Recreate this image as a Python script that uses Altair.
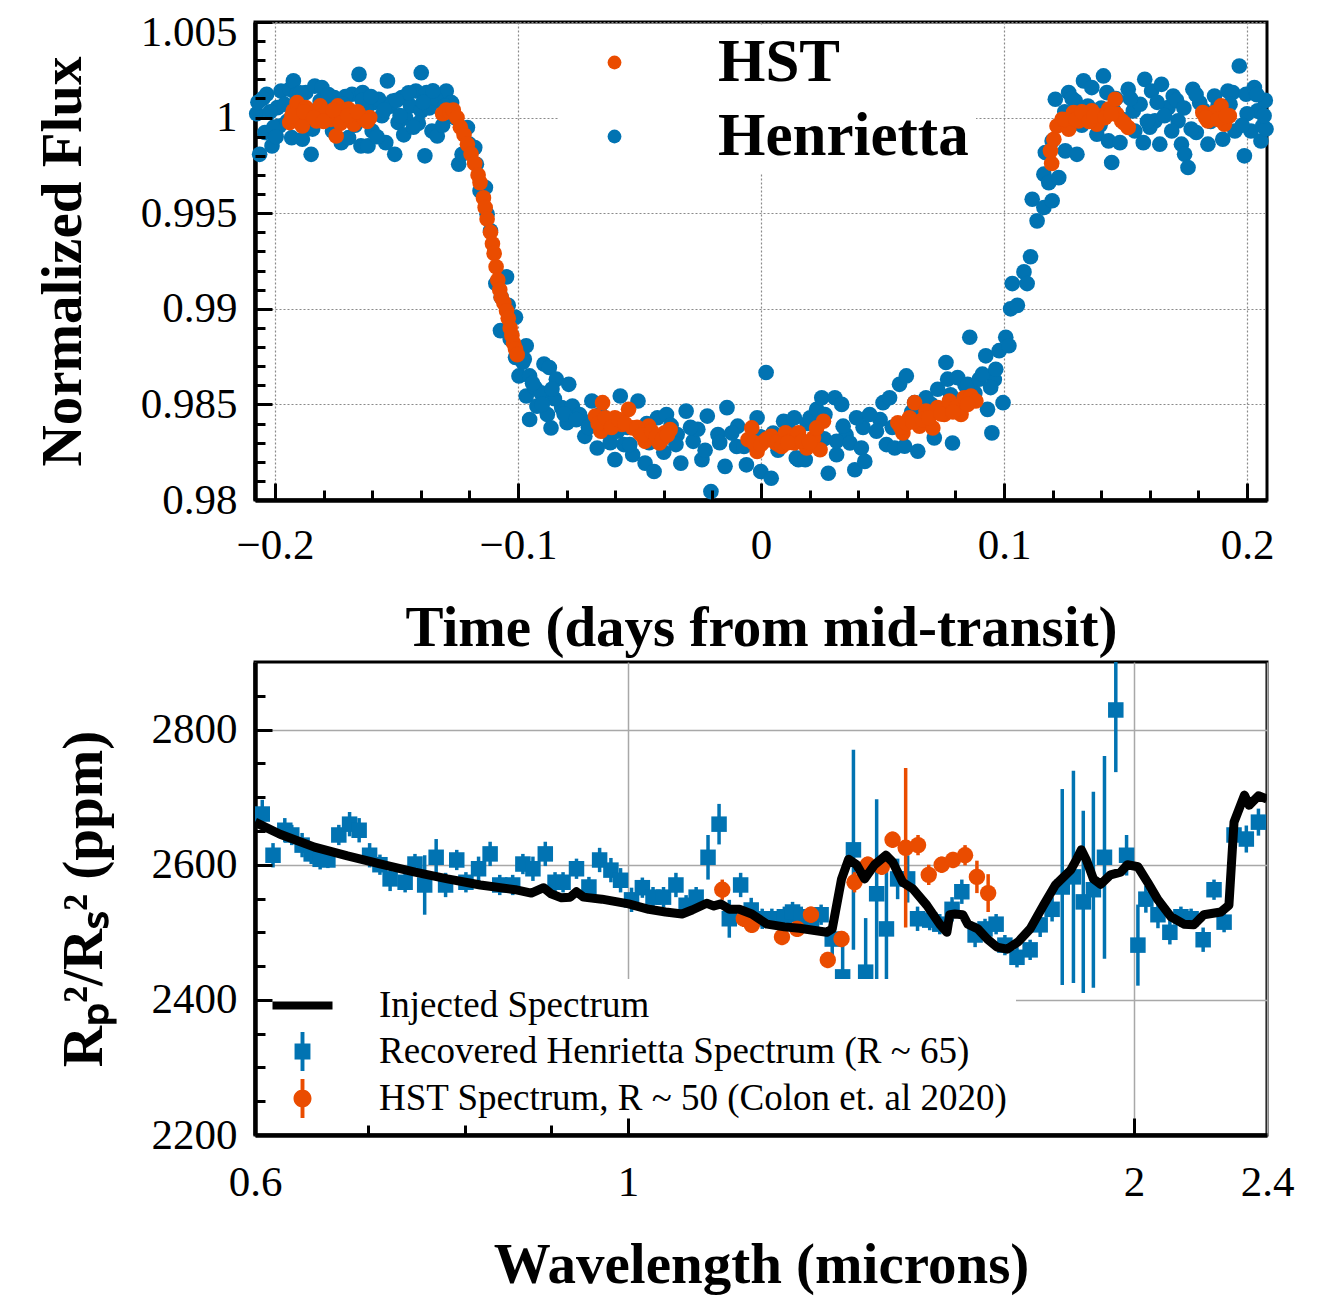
import altair as alt
import pandas as pd

BLUE = "#0173B2"
ORANGE = "#EA4C00"

# ---------------- top panel data (light curve) ----------------
hen_t = [-0.2063, -0.2041, -0.2034, -0.2012, -0.1990, -0.1982, -0.1975, -0.1939, -0.1924, -0.1931,
         -0.1887, -0.1873, -0.1851, -0.1836, -0.1807, -0.1814, -0.1785, -0.1763, -0.1756, -0.1727,
         -0.1697, -0.1683, -0.1654, -0.1646, -0.1639, -0.1617, -0.1595, -0.1573, -0.1544, -0.1537,
         -0.1515, -0.1507, -0.1493, -0.1478, -0.1463, -0.1442, -0.1420, -0.1398, -0.1398, -0.1383,
         -0.1376, -0.1354, -0.1332, -0.1325, -0.1295, -0.1273, -0.1259, -0.1244, -0.1230, -0.1208,
         -0.1200, -0.1178, -0.1171, -0.1156, -0.1134, -0.1127, -0.1113,
         -0.2075, -0.2050, -0.2005, -0.1960, -0.1910, -0.1860, -0.1795, -0.1740, -0.1710, -0.1670,
         -0.1625, -0.1600, -0.1560, -0.1525, -0.1470, -0.1450, -0.1410, -0.1365, -0.1340, -0.1310,
         -0.2070, -0.2020, -0.1995, -0.1950, -0.1915, -0.1895, -0.1845, -0.1820, -0.1780, -0.1750,
         -0.1720, -0.1690, -0.1640, -0.1605, -0.1580, -0.1550, -0.1500, -0.1485, -0.1430, -0.1390,
         -0.1350, -0.1300,
         -0.1091, -0.1047, -0.1069, -0.1040, -0.1010, -0.1072, -0.1032, -0.0966, -0.1010, -0.0974,
         -0.0996, -0.0952, -0.0893, -0.0871, -0.0966, -0.0930, -0.0842, -0.0791, -0.0922, -0.0952,
         -0.0879, -0.0864, -0.0820, -0.0776, -0.0798, -0.0747, -0.0725, -0.0696, -0.0674, -0.0645,
         -0.0601, -0.0579, -0.0564, -0.0528, -0.0506, -0.0477, -0.0440, -0.0426, -0.0389, -0.0345,
         -0.0330, -0.0308, -0.0279, -0.0243, -0.0221, -0.0206, -0.0177, -0.0140, -0.0148, -0.0096,
         -0.0060, -0.0016, 0.0021, -0.0001, 0.0042, 0.0093, 0.0137, 0.0145,
         -0.0620, -0.0550, -0.0460, -0.0400, -0.0370, -0.0100, 0.0050, -0.0260, -0.0700, -0.0850, -0.0905,
         -0.0980, -0.0940, -0.0900, -0.0860, -0.0810, -0.0760, -0.0710, -0.0660, -0.0590, -0.0540,
         -0.0470, -0.0350, -0.0290, -0.0230, -0.0170, -0.0120, -0.0070, 0.0000, 0.0070, 0.0120,
         0.0190, 0.0260, 0.0350, 0.0420, 0.0490, 0.0540, 0.0620, 0.0700, 0.0780, 0.0840,
         0.0880, 0.0960,
         0.0154, 0.0182, 0.0202, 0.0229, 0.0250, 0.0277, 0.0263, 0.0304, 0.0311, 0.0332,
         0.0338, 0.0311, 0.0366, 0.0386, 0.0393, 0.0413, 0.0427, 0.0447, 0.0475, 0.0502,
         0.0516, 0.0529, 0.0550, 0.0570, 0.0591, 0.0598, 0.0632, 0.0645, 0.0679, 0.0713,
         0.0727, 0.0761, 0.0768, 0.0788, 0.0809, 0.0850, 0.0859, 0.0898, 0.0911, 0.0925,
         0.0932, 0.0945, 0.0950, 0.0966, 0.0980, 0.0996, 0.1007, 0.1020, 0.1027, 0.1055,
         0.1034, 0.1082, 0.1095, 0.1109,
         0.1136, 0.1116, 0.1164, 0.1198, 0.1164, 0.1184, 0.1225, 0.1170, 0.1198, 0.1211,
         0.1252, 0.1266, 0.1293, 0.1300, 0.1327, 0.1361, 0.1382, 0.1409, 0.1423, 0.1443,
         0.1430, 0.1477, 0.1511, 0.1532, 0.1538, 0.1573, 0.1579, 0.1607, 0.1621, 0.1648,
         0.1641, 0.1675, 0.1696, 0.1716, 0.1730, 0.1743, 0.1757, 0.1777, 0.1791, 0.1805,
         0.1839, 0.1866, 0.1900, 0.1921, 0.1941, 0.1968, 0.1989, 0.1996, 0.2016, 0.2030,
         0.2043, 0.2057, 0.2064,
         0.1250, 0.1320, 0.1400, 0.1460, 0.1490, 0.1560, 0.1600, 0.1660, 0.1710, 0.1770,
         0.1820, 0.1850, 0.1880, 0.1950, 0.2000, 0.2075, 0.2078,
         0.1280, 0.1345, 0.1395, 0.1450, 0.1520, 0.1590, 0.1630, 0.1690, 0.1740, 0.1790,
         0.1860, 0.1930, 0.1980, 0.2040, 0.2070]
hen_f = [0.99808, 0.99922, 1.00122, 0.99852, 1.00052, 0.99956, 1.00139, 1.00148, 1.00192, 0.99895,
         0.99887, 1.00131, 0.99808, 1.00165, 1.00157, 1.00087, 1.00044, 0.99930, 1.00105, 0.99869,
         0.99895, 1.00122, 1.00226, 0.99852, 1.00131, 0.99852, 1.00078, 1.00096, 0.99869, 1.00192,
         1.00087, 0.99808, 0.99974, 1.00105, 1.00000, 1.00061, 1.00139, 1.00235, 1.00035, 0.99800,
         1.00131, 0.99930, 0.99904, 1.00087, 1.00139, 1.00078, 1.00000, 0.99756, 0.99808, 0.99948,
         0.99861, 0.99843, 0.99756, 0.99617, 0.99634, 0.99495, 0.99408,
         1.00020, 1.00100, 0.99950, 1.00070, 1.00120, 1.00020, 0.99990, 1.00030, 1.00110, 0.99960,
         1.00040, 0.99930, 1.00010, 1.00060, 0.99910, 1.00130, 0.99970, 1.00050, 1.00100, 0.99960,
         1.00080, 1.00030, 0.99900, 0.99980, 1.00040, 1.00130, 0.99940, 1.00050, 1.00120, 0.99970,
         1.00070, 1.00020, 1.00090, 1.00110, 0.99900, 1.00040, 1.00090, 1.00010, 0.99950, 1.00080,
         1.00140, 1.00060,
         0.99132, 0.99167, 0.99061, 0.99018, 0.98956, 0.98886, 0.98842, 0.98807, 0.98746, 0.98737,
         0.98649, 0.98649, 0.98711, 0.98693, 0.98544, 0.98588, 0.98632, 0.98605, 0.98491, 0.98421,
         0.98447, 0.98377, 0.98483, 0.98491, 0.98404, 0.98447, 0.98333, 0.98518, 0.98272, 0.98360,
         0.98211, 0.98544, 0.98290, 0.98237, 0.98518, 0.98193, 0.98149, 0.98430, 0.98447, 0.98342,
         0.98193, 0.98465, 0.98307, 0.98211, 0.98439, 0.98044, 0.98342, 0.98483, 0.98176, 0.98386,
         0.98184, 0.98430, 0.98667, 0.98149, 0.98114, 0.98412, 0.98430, 0.98220,
         0.98300, 0.98380, 0.98300, 0.98250, 0.98390, 0.98280, 0.98350, 0.98370, 0.98410, 0.98530, 0.98560,
         0.98720, 0.98610, 0.98500, 0.98580, 0.98450, 0.98420, 0.98380, 0.98450, 0.98360, 0.98290,
         0.98400, 0.98290, 0.98380, 0.98260, 0.98300, 0.98350, 0.98280, 0.98330, 0.98260, 0.98360,
         0.98400, 0.98320, 0.98340, 0.98380, 0.98420, 0.98380, 0.98460, 0.98500, 0.98550, 0.98600,
         0.98560, 0.98630,
         0.98211, 0.98211, 0.98430, 0.98474, 0.98535, 0.98140, 0.98447, 0.98535, 0.98237, 0.98500,
         0.98386, 0.98307, 0.98298, 0.98158, 0.98430, 0.98272, 0.98202, 0.98447, 0.98360, 0.98509,
         0.98290, 0.98535, 0.98272, 0.98605, 0.98281, 0.98649, 0.98509, 0.98255, 0.98535, 0.98325,
         0.98579, 0.98719, 0.98632, 0.98298, 0.98640, 0.98605, 0.98851, 0.98632, 0.98658, 0.98754,
         0.98474, 0.98588, 0.98351, 0.98684, 0.98781, 0.98509, 0.98851, 0.98807, 0.99000, 0.99018,
         0.99132, 0.99193, 0.99132, 0.99272,
         0.99460, 0.99573, 0.99530, 0.99565, 0.99704, 0.99660, 0.99686, 0.99817, 0.99878, 1.00096,
         0.99826, 1.00131, 1.00087, 0.99808, 1.00192, 1.00157, 0.99913, 1.00218, 1.00131, 0.99765,
         0.99878, 0.99869, 1.00148, 1.00035, 0.99930, 0.99869, 1.00200, 1.00139, 0.99983, 1.00174,
         0.99861, 1.00052, 1.00113, 0.99983, 0.99861, 0.99808, 0.99739, 1.00148, 0.99922, 1.00078,
         0.99861, 1.00113, 0.99887, 1.00139, 1.00131, 1.00270, 0.99800, 1.00122, 0.99930, 1.00157,
         1.00035, 0.99878, 0.99956,
         1.00030, 0.99960, 1.00050, 1.00100, 0.99990, 1.00070, 0.99950, 1.00010, 1.00090, 0.99940,
         1.00040, 0.99980, 1.00060, 0.99930, 1.00020, 1.00090, 0.99940,
         1.00100, 1.00060, 0.99960, 1.00040, 1.00100, 0.99980, 1.00080, 0.99930, 1.00050, 1.00120,
         1.00000, 1.00070, 0.99960, 1.00120, 1.00010]

hst_t = [-0.1939, -0.1924, -0.1909, -0.1902, -0.1887, -0.1873, -0.1851, -0.1829, -0.1814, -0.1792,
         -0.1770, -0.1748, -0.1741, -0.1719, -0.1697, -0.1675, -0.1654, -0.1632, -0.1610,
         -0.1930, -0.1880, -0.1840, -0.1800, -0.1760, -0.1730, -0.1700, -0.1660, -0.1620,
         -0.1310, -0.1295, -0.1280, -0.1266, -0.1251, -0.1237, -0.1222, -0.1208, -0.1193, -0.1178,
         -0.1164, -0.1156, -0.1142, -0.1135, -0.1127, -0.1113, -0.1105, -0.1098, -0.1090, -0.1083,
         -0.1075, -0.1069, -0.1058, -0.1047, -0.1040, -0.1032, -0.1025, -0.1018, -0.1010, -0.1003,
         -0.0681, -0.0652, -0.0659, -0.0630, -0.0601, -0.0572, -0.0545, -0.0528, -0.0499, -0.0477,
         -0.0462, -0.0440, -0.0418, -0.0396, -0.0374,
         -0.0670, -0.0640, -0.0615, -0.0585, -0.0560, -0.0510, -0.0490, -0.0450, -0.0430, -0.0405, -0.0385,
         -0.0053, -0.0038, -0.0016, 0.0013, 0.0042, 0.0072, 0.0101, 0.0137, 0.0120, 0.0154,
         0.0188, 0.0216, 0.0243, 0.0257, 0.0229,
         -0.0030, 0.0000, 0.0025, 0.0060, 0.0085, 0.0110, 0.0170, 0.0200,
         0.0563, 0.0584, 0.0611, 0.0632, 0.0652, 0.0679, 0.0707, 0.0727, 0.0754, 0.0775,
         0.0802, 0.0823, 0.0836, 0.0864, 0.0884,
         0.0575, 0.0600, 0.0625, 0.0665, 0.0690, 0.0740, 0.0790, 0.0850,
         0.1191, 0.1205, 0.1218, 0.1239, 0.1266, 0.1286, 0.1307, 0.1334, 0.1361, 0.1382,
         0.1402, 0.1430, 0.1457, 0.1464, 0.1484, 0.1511,
         0.1196, 0.1250, 0.1295, 0.1320, 0.1350, 0.1370, 0.1415, 0.1440, 0.1495,
         0.1818, 0.1839, 0.1866, 0.1893, 0.1907, 0.1927, 0.1830, 0.1880, 0.1915]
hst_f = [0.99974, 1.00035, 1.00078, 1.00000, 0.99956, 1.00052, 1.00017, 0.99983, 1.00061, 1.00026,
         0.99991, 0.99904, 1.00061, 1.00000, 1.00044, 0.99965, 1.00017, 0.99991, 1.00000,
         1.00010, 1.00030, 1.00000, 0.99980, 1.00040, 0.99970, 1.00010, 1.00030, 0.99980,
         1.00020, 1.00040, 1.00030, 1.00040, 1.00000, 0.99950, 0.99910, 0.99860, 0.99810, 0.99760,
         0.99700, 0.99660, 0.99580, 0.99530, 0.99470, 0.99400, 0.99340, 0.99290, 0.99220, 0.99150,
         0.99100, 0.99060, 0.99030, 0.98990, 0.98950, 0.98900, 0.98860, 0.98820, 0.98790, 0.98760,
         0.98439, 0.98509, 0.98360, 0.98395, 0.98430, 0.98395, 0.98474, 0.98377, 0.98351, 0.98307,
         0.98386, 0.98325, 0.98298, 0.98351, 0.98368,
         0.98400, 0.98430, 0.98380, 0.98420, 0.98400, 0.98380, 0.98340, 0.98360, 0.98330, 0.98320, 0.98340,
         0.98316, 0.98377, 0.98254, 0.98307, 0.98333, 0.98290, 0.98351, 0.98298, 0.98307, 0.98351,
         0.98272, 0.98325, 0.98263, 0.98412, 0.98377,
         0.98300, 0.98290, 0.98320, 0.98300, 0.98280, 0.98300, 0.98310, 0.98300,
         0.98404, 0.98351, 0.98430, 0.98509, 0.98386, 0.98465, 0.98377, 0.98483, 0.98447, 0.98518,
         0.98483, 0.98447, 0.98535, 0.98544, 0.98518,
         0.98380, 0.98400, 0.98410, 0.98420, 0.98430, 0.98450, 0.98460, 0.98500,
         0.99826, 0.99887, 0.99956, 0.99991, 0.99939, 1.00026, 0.99983, 1.00000, 1.00035, 0.99965,
         1.00009, 1.00044, 1.00096, 1.00017, 0.99983, 0.99948,
         0.99760, 0.99990, 0.99990, 1.00030, 0.99980, 1.00010, 1.00000, 1.00020, 0.99970,
         1.00026, 0.99983, 1.00026, 1.00061, 0.99965, 1.00009, 1.00000, 0.99990, 1.00010]

# ---------------- bottom panel data (spectrum) ----------------
lam_hen = [0.606, 0.615, 0.625, 0.631, 0.640, 0.648, 0.656, 0.663, 0.673, 0.683,
           0.692, 0.702, 0.712, 0.722, 0.737, 0.747, 0.757, 0.769, 0.779, 0.791,
           0.801, 0.815, 0.828, 0.839, 0.854, 0.866, 0.878, 0.893, 0.905, 0.915,
           0.932, 0.948, 0.962, 0.977, 0.990, 1.005, 1.020, 1.035, 1.050, 1.068,
           1.083, 1.098, 1.116, 1.133, 1.149, 1.167, 1.184, 1.202, 1.218, 1.239,
           1.253, 1.268, 1.286, 1.303, 1.323, 1.342, 1.362, 1.385, 1.406, 1.425,
           1.447, 1.467, 1.487, 1.512, 1.533, 1.559, 1.580, 1.609, 1.631, 1.656,
           1.676, 1.704, 1.735, 1.759, 1.788, 1.813, 1.841, 1.866, 1.892, 1.921,
           1.951, 1.980, 2.011, 2.033, 2.067, 2.101, 2.133, 2.163, 2.199, 2.232,
           2.263, 2.294, 2.333, 2.372]
ppm_hen = [2675, 2614, 2651, 2644, 2629, 2616, 2608, 2607, 2644, 2660,
           2651, 2614, 2600, 2579, 2574, 2601, 2570, 2611, 2570, 2607,
           2574, 2594, 2616, 2570, 2570, 2601, 2594, 2616, 2574, 2574,
           2594, 2567, 2607, 2592, 2577, 2548, 2566, 2552, 2552, 2570,
           2540, 2552, 2611, 2660, 2520, 2570, 2533, 2520, 2520, 2523,
           2530, 2523, 2518, 2526, 2490, 2434, 2622, 2441, 2557, 2505,
           2579, 2579, 2520, 2518, 2512, 2534, 2560, 2496, 2505, 2512,
           2481, 2463, 2474, 2511, 2534, 2567, 2582, 2545, 2563, 2611,
           2829, 2614, 2481, 2549, 2526, 2500, 2523, 2520, 2489, 2563,
           2515, 2644, 2638, 2663]
err_hen = [21, 18, 18, 15, 18, 15, 15, 12, 15, 18,
           18, 18, 15, 18, 15, 15, 44, 27, 18, 15,
           15, 18, 18, 15, 15, 15, 18, 18, 15, 15,
           15, 15, 18, 18, 18, 18, 15, 15, 15, 18,
           15, 15, 33, 30, 28, 18, 18, 15, 15, 15,
           15, 15, 15, 15, 33, 55, 148, 80, 140, 100,
           30, 35, 18, 15, 15, 18, 18, 18, 15, 15,
           15, 15, 15, 18, 18, 145, 157, 135, 145, 150,
           92, 30, 60, 20, 20, 18, 15, 15, 18, 15,
           15, 20, 20, 20]

lam_hst = [1.138, 1.172, 1.185, 1.235, 1.261, 1.285, 1.315, 1.340, 1.364, 1.389,
           1.416, 1.437, 1.463, 1.488, 1.510, 1.537, 1.561, 1.587, 1.613, 1.638]
ppm_hst = [2563, 2520, 2511, 2493, 2505, 2526, 2459, 2490, 2574, 2600,
           2597, 2637, 2625, 2629, 2585, 2600, 2607, 2614, 2582, 2558]
err_hst = [15, 12, 12, 12, 12, 12, 12, 12, 15, 12,
           12, 12, 118, 15, 15, 12, 12, 15, 24, 28]

lam_inj = [0.600, 0.621, 0.651, 0.681, 0.713, 0.747, 0.781, 0.817, 0.857, 0.876,
           0.891, 0.900, 0.913, 0.924, 0.932, 0.941, 0.965, 1.001, 1.029, 1.053,
           1.077, 1.092, 1.114, 1.125, 1.136, 1.149, 1.165, 1.185, 1.210, 1.239,
           1.265, 1.313, 1.323, 1.340, 1.353, 1.368, 1.383, 1.402, 1.424, 1.437,
           1.457, 1.478, 1.506, 1.533, 1.548, 1.554, 1.565, 1.582, 1.593, 1.615,
           1.636, 1.658, 1.681, 1.707, 1.735, 1.767, 1.796, 1.834, 1.849, 1.861,
           1.874, 1.892, 1.911, 1.937, 1.964, 1.982, 2.011, 2.038, 2.067, 2.104,
           2.142, 2.171, 2.201, 2.253, 2.278, 2.294, 2.327, 2.342, 2.372, 2.400]
ppm_inj = [2663, 2645, 2626, 2613, 2601, 2589, 2579, 2570, 2563, 2558,
           2566, 2557, 2551, 2552, 2560, 2552, 2549, 2542, 2534, 2530,
           2527, 2533, 2543, 2539, 2542, 2534, 2534, 2527, 2512, 2508,
           2506, 2500, 2505, 2579, 2608, 2600, 2579, 2600, 2614, 2604,
           2574, 2564, 2540, 2512, 2500, 2526, 2527, 2526, 2512, 2505,
           2490, 2478, 2475, 2486, 2505, 2540, 2570, 2592, 2608, 2622,
           2607, 2579, 2571, 2585, 2589, 2600, 2597, 2574, 2548, 2523,
           2512, 2511, 2526, 2530, 2540, 2663, 2703, 2688, 2702, 2697]

# tick positions / labels
top_x_labels = [-0.2, -0.1, 0.0, 0.1, 0.2]
top_x_minor = [-0.18, -0.16, -0.14, -0.12, -0.08, -0.06, -0.04, -0.02,
               0.02, 0.04, 0.06, 0.08, 0.12, 0.14, 0.16, 0.18]
top_y_labels = [0.98, 0.985, 0.99, 0.995, 1.0, 1.005]
top_y_minor = [0.981, 0.982, 0.983, 0.984, 0.986, 0.987, 0.988, 0.989, 0.991, 0.992,
               0.993, 0.994, 0.996, 0.997, 0.998, 0.999, 1.001, 1.002, 1.003, 1.004]
bot_x_labels = [0.6, 1, 2, 2.4]
bot_x_major = [1, 2]
bot_x_minor = [0.7, 0.8, 0.9]
bot_y_labels = [2200, 2400, 2600, 2800]
bot_y_minor = [2250, 2300, 2350, 2450, 2500, 2550, 2650, 2700, 2750, 2850]

legend_names = ["Injected Spectrum", "Recovered Henrietta Spectrum (R ~ 65)",
                "HST Spectrum, R ~ 50 (Colon et. al 2020)"]

W = 1012
H1 = 478
H2 = 473
FONT = "Liberation Serif"

# ---------------- top panel ----------------
top_df = pd.DataFrame({
    "t": hen_t + hst_t,
    "f": hen_f + hst_f,
    "src": ["Henrietta"] * len(hen_t) + ["HST"] * len(hst_t),
})
xs1 = alt.Scale(domain=[-0.2082, 0.2082], nice=False, zero=False)
ys1 = alt.Scale(domain=[0.98, 1.005], nice=False, zero=False)

pts = alt.Chart(top_df).mark_circle(size=245, opacity=1).encode(
    x=alt.X("t:Q", scale=xs1, title="Time (days from mid-transit)",
            axis=alt.Axis(values=top_x_labels, format="~g", ticks=False, tickSize=0,
                          grid=True, gridDash=[2, 2], gridColor="#8a8a8a", gridWidth=1.2,
                          domainColor="black", domainWidth=4.5, labelPadding=24,
                          labelFlush=False, labelOverlap=False, titlePadding=33)),
    y=alt.Y("f:Q", scale=ys1, title="Normalized Flux",
            axis=alt.Axis(values=top_y_labels, format=".3~f", ticks=False, tickSize=0,
                          grid=True, gridDash=[2, 2], gridColor="#8a8a8a", gridWidth=1.2,
                          domainColor="black", domainWidth=4.5, labelPadding=18,
                          labelFlush=False, labelOverlap=False, titlePadding=48,
                          labelOffset={"condition": {"test": "datum.value > 1.004", "value": 10}, "value": 0})),
    color=alt.Color("src:N", scale=alt.Scale(domain=["HST", "Henrietta"], range=[ORANGE, BLUE]),
                    legend=alt.Legend(title=None, orient="none", legendX=304, legendY=3,
                                      symbolType="circle", symbolSize=190, symbolStrokeWidth=0,
                                      labelFont=FONT, labelFontSize=61, labelFontWeight="bold",
                                      labelColor="black", labelLimit=1000, padding=7, rowPadding=12,
                                      symbolOffset=18, labelOffset=73, fillColor="white")),
)

tick_df1 = pd.DataFrame({"t": [0.0], "f": [0.99]})


def tick_layer(df, xf, yf, xs, ys, xv, yv, size, w, h):
    return alt.Chart(df).mark_point(opacity=0).encode(
        x=alt.X(xf, scale=xs, title=None,
                axis=alt.Axis(orient="top", offset=-h, values=xv, ticks=True, tickSize=size,
                              tickWidth=3, tickColor="black", labels=False, domain=False,
                              grid=False, zindex=2)),
        y=alt.Y(yf, scale=ys, title=None,
                axis=alt.Axis(orient="right", offset=-w, values=yv, ticks=True, tickSize=size,
                              tickWidth=3, tickColor="black", labels=False, domain=False,
                              grid=False, zindex=2)),
    )


top = alt.layer(
    pts,
    tick_layer(tick_df1, "t:Q", "f:Q", xs1, ys1, top_x_labels, top_y_labels, 17, W, H1),
    tick_layer(tick_df1, "t:Q", "f:Q", xs1, ys1, top_x_minor, top_y_minor, 10, W, H1),
).resolve_axis(x="independent", y="independent").properties(width=W, height=H1)

# ---------------- bottom panel ----------------
hen_df = pd.DataFrame({"lam": lam_hen, "ppm": ppm_hen,
                       "lo": [v - e for v, e in zip(ppm_hen, err_hen)],
                       "hi": [v + e for v, e in zip(ppm_hen, err_hen)]})
hst_df = pd.DataFrame({"lam": lam_hst, "ppm": ppm_hst,
                       "lo": [v - e for v, e in zip(ppm_hst, err_hst)],
                       "hi": [v + e for v, e in zip(ppm_hst, err_hst)]})
inj_df = pd.DataFrame({"lam": lam_inj, "ppm": ppm_inj})
leg_df = pd.DataFrame({"lam": [0.3, 0.3, 0.3], "ppm": [2500, 2500, 2500], "series": legend_names})

xs2 = alt.Scale(type="log", domain=[0.6, 2.4], nice=False)
ys2 = alt.Scale(domain=[2200, 2900], nice=False, zero=False)

base_x = alt.X("lam:Q", scale=xs2, axis=None)
main = alt.Chart(hen_df).mark_rule(color=BLUE, strokeWidth=3.5, clip=True).encode(
    x=alt.X("lam:Q", scale=xs2, title="Wavelength (microns)",
            axis=alt.Axis(values=bot_x_labels, format="~g", ticks=False, tickSize=0,
                          grid=True, gridColor="#a8a8a8", gridWidth=1.5,
                          domainColor="black", domainWidth=4.5, labelPadding=26,
                          labelFlush=False, labelOverlap=False, titlePadding=33)),
    y=alt.Y("lo:Q", scale=ys2, title="Rₚ²/Rₛ² (ppm)",
            axis=alt.Axis(values=bot_y_labels, format="d", ticks=False, tickSize=0,
                          grid=True, gridColor="#a8a8a8", gridWidth=1.5,
                          domainColor="black", domainWidth=4.5, labelPadding=18,
                          labelFlush=False, labelOverlap=False, titlePadding=38)),
    y2="hi:Q",
)
sq = alt.Chart(hen_df).mark_square(size=240, color=BLUE, opacity=1, clip=True).encode(
    x=base_x, y=alt.Y("ppm:Q", scale=ys2, axis=None))
hst_bars = alt.Chart(hst_df).mark_rule(color=ORANGE, strokeWidth=3.5, clip=True).encode(
    x=base_x, y=alt.Y("lo:Q", scale=ys2, axis=None), y2="hi:Q")
hst_pts = alt.Chart(hst_df).mark_circle(size=270, color=ORANGE, opacity=1, clip=True).encode(
    x=base_x, y=alt.Y("ppm:Q", scale=ys2, axis=None))
inj = alt.Chart(inj_df).mark_line(color="black", strokeWidth=9, strokeJoin="round", clip=True).encode(
    x=base_x, y=alt.Y("ppm:Q", scale=ys2, axis=None))

path_line = "M-2,-0.27L2,-0.27L2,0.27L-2,0.27Z"
path_sq = "M-0.53,-0.53L0.53,-0.53L0.53,0.53L-0.53,0.53Z M-0.13,-1.3L0.13,-1.3L0.13,1.3L-0.13,1.3Z"
path_circ = "M-0.6,0A0.6,0.6 0 1,1 0.6,0A0.6,0.6 0 1,1 -0.6,0Z M-0.13,-1.3L0.13,-1.3L0.13,1.3L-0.13,1.3Z"
bleg = alt.Legend(title=None, orient="none", legendX=8, legendY=317, symbolSize=900,
                  symbolStrokeWidth=0, labelFont=FONT, labelFontSize=37, labelColor="black",
                  labelLimit=1000, padding=8, rowPadding=8, symbolOffset=13, labelOffset=58,
                  fillColor="white")
legend_layer = alt.Chart(leg_df).mark_point(filled=True, size=900, opacity=1, clip=True).encode(
    x=base_x, y=alt.Y("ppm:Q", scale=ys2, axis=None),
    color=alt.Color("series:N", scale=alt.Scale(domain=legend_names, range=["black", BLUE, ORANGE]),
                    legend=bleg),
    shape=alt.Shape("series:N", scale=alt.Scale(domain=legend_names, range=[path_line, path_sq, path_circ]),
                    legend=bleg),
)

tick_df2 = pd.DataFrame({"lam": [1.0], "ppm": [2500]})
bottom = alt.layer(
    main, sq, hst_bars, hst_pts, inj, legend_layer,
    tick_layer(tick_df2, "lam:Q", "ppm:Q", xs2, ys2, bot_x_major, bot_y_labels, 17, W, H2),
    tick_layer(tick_df2, "lam:Q", "ppm:Q", xs2, ys2, bot_x_minor, bot_y_minor, 10, W, H2),
).resolve_axis(x="independent", y="independent").properties(width=W, height=H2)

chart = alt.vconcat(top, bottom, spacing=162, bounds="flush").resolve_scale(
    color="independent", shape="independent"
).properties(
    padding={"left": 32, "top": 9, "right": 40, "bottom": 10}
).configure_axis(
    labelFont=FONT, labelFontSize=43, labelColor="black",
    titleFont=FONT, titleFontSize=57, titleFontWeight="bold", titleColor="black",
).configure_view(stroke="black", strokeWidth=3)

chart.save("out.html", embed_options={"renderer": "svg", "actions": False})
